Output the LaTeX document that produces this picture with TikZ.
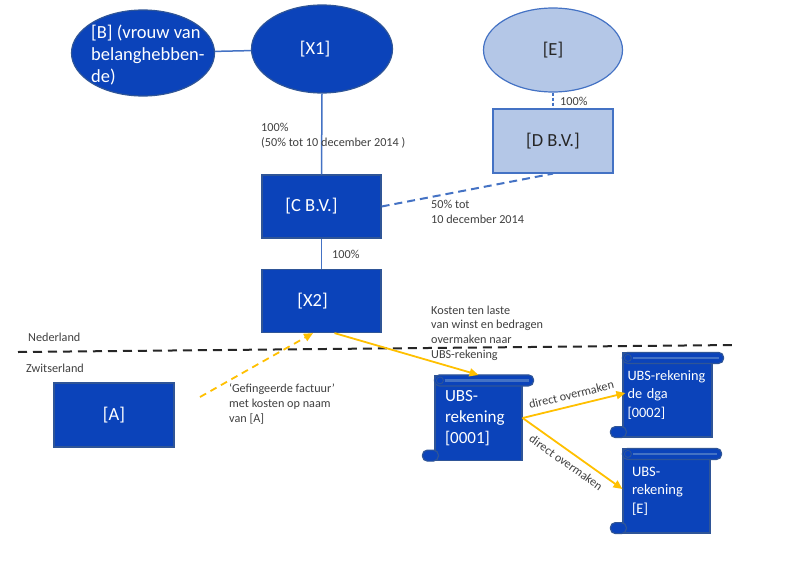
\documentclass[tikz,border=0pt]{standalone}
\usepackage{fontspec}
\setmainfont{Carlito}
\usetikzlibrary{arrows.meta,positioning,calc,shapes.geometric}

\definecolor{orgblue}{RGB}{11,67,186}
\definecolor{orgedge}{RGB}{47,85,151}
\definecolor{linkblue}{RGB}{68,114,196}
\definecolor{paleblue}{RGB}{180,199,231}
\definecolor{flowyellow}{RGB}{255,192,0}
\definecolor{notegrey}{RGB}{64,64,64}

\tikzset{
  orgnode/.style={fill=orgblue,draw=orgedge,line width=1.2pt,text=white,inner sep=0pt,
    font=\fontsize{18.5}{22}\selectfont},
  orgbox/.style={orgnode,rectangle,minimum width=119,minimum height=63},
  orgoval/.style={orgnode,ellipse,minimum width=142,minimum height=87},
  palenode/.style={fill=paleblue,draw=linkblue,line width=1.2pt,text=black!85,inner sep=0pt,
    font=\fontsize{18.5}{22}\selectfont},
  scrollbody/.style={orgnode,rectangle,align=left},
  rollpart/.style={fill=orgblue,draw=orgedge,line width=1.2pt},
  link/.style={draw=linkblue,line width=1.5pt},
  notetext/.style={text=notegrey,font=\fontsize{12.2}{14.7}\selectfont,align=left,inner sep=0pt},
  note/.style={notetext,anchor=west},
  flow/.style={draw=flowyellow,line width=1.8pt,-{Triangle[length=9pt,width=8pt]}},
  border/.style={draw=black!85,line width=2pt,dash pattern=on 9pt off 6pt}
}

\begin{document}
\begin{tikzpicture}[x=1pt,y=-1pt]
\fill[white] (0,0) rectangle (800,581);
\useasboundingbox (0,0) rectangle (800,581);

% ownership structure
\node[orgoval,minimum width=143,minimum height=86] (b) at (143,53) {};
\node[anchor=west,align=left,text=white,inner sep=0pt,font=\fontsize{18.5}{22}\selectfont] (btext) at (91,55)
  {[B] (vrouw van\\belanghebben-\\de)};
\node[orgoval,minimum width=141,minimum height=88] (x1) at (322,49) {\hspace*{-14pt}[X1]};
\node[palenode,ellipse,minimum width=139,minimum height=84] (e) at (553,50) {[E]};
\node[palenode,rectangle,minimum width=120,minimum height=64] (d) at (553,141) {[D B.V.]};
\node[orgbox] (c) at (321.5,206.5) {\hspace*{-20pt}[C B.V.]};
\node[orgbox] (x2) at (321.5,301) {\hspace*{-18pt}[X2]};
\node[orgbox,minimum width=120,minimum height=64] (a) at (114,415) {[A]};

\draw[link] (b) -- (x1);
\draw[link] (x1.south) -- (c.north);
\draw[link] (c) -- (x2);
\draw[link,dash pattern=on 3pt off 2pt] (e) -- (d);
\draw[link,line width=2pt,dash pattern=on 8pt off 5pt] (c.east) -- (d.south);

\node[note] (n100a) at (261,136) {100\%\\(50\% tot 10 december 2014 )};
\node[note] (n100b) at (332,254) {100\%};
\node[note] (n100c) at (560,101) {100\%};
\node[note] (n50) at (431,212) {50\% tot\\10 december 2014};

% border NL / CH
\coordinate (bleft) at (18,352);
\coordinate (bright) at (735,345);
\draw[border] (bleft) -- (bright);
\node[note] (nl) at (28,337) {Nederland};
\node[note] (ch) at (26,368) {Zwitserland};

% UBS accounts
\node[scrollbody,minimum width=87,minimum height=85,text width=67,
  font=\fontsize{17}{21}\selectfont] (ubs1) at (478.5,418) {UBS-\\rekening\\{}[0001]};
\node[scrollbody,minimum width=89,minimum height=84,text width=80,
  font=\fontsize{14.3}{18.5}\selectfont] (ubs2) at (667.5,395) {UBS-rekening\\de dga\\{}[0002]};
\node[scrollbody,minimum width=87,minimum height=84,text width=69,
  font=\fontsize{14.5}{18.5}\selectfont] (ubs3) at (666.5,491) {UBS-\\rekening\\{}[E]};
\foreach \n in {ubs1,ubs2,ubs3} {
  \draw[rollpart,rounded corners=5pt] (\n.north west) rectangle ($(\n.north east)+(11,11)$);
  \draw[linkblue,line width=2.5pt] ($(\n.north west)+(11,5.5)$) -- ($(\n.north east)+(6,5.5)$);
  \draw[rollpart,line width=0.8pt] ($(\n.north west)+(5.5,5.5)$) circle (3.5pt);
  \draw[rollpart,rounded corners=5pt] ($(\n.south west)+(-12,-11)$) rectangle ($(\n.south west)+(4,0)$);
}

% money flows
\coordinate (invstart) at (200,397);
\draw[flow,dash pattern=on 7pt off 5pt] (invstart) -- ($(x2.south)+(-8.5,0)$);
\node[note] (ninv) at (229,404) {‘Gefingeerde factuur’\\met kosten op naam\\van [A]};
\draw[flow] ($(x2.south)+(13,0)$) -- (ubs1.north);
\node[note] (ncost) at (431,333) {Kosten ten laste\\van winst en bedragen\\overmaken naar\\UBS-rekening};
\draw[flow] (ubs1.east) -- node[notetext,sloped,above=6pt] (ndir1) {direct overmaken} ($(ubs2.west)+(3,-2)$);
\draw[flow] (ubs1.east) -- node[notetext,sloped,below=6pt] (ndir2) {direct overmaken} ($(ubs3.west)+(0,-2)$);
\end{tikzpicture}
\end{document}
